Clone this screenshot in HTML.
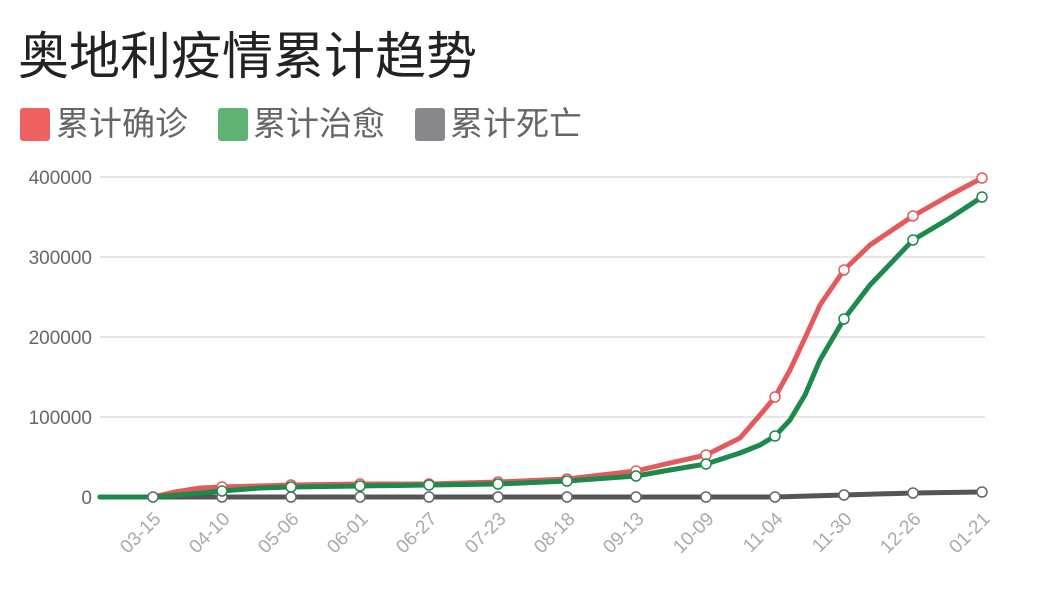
<!DOCTYPE html>
<html><head><meta charset="utf-8"><style>
body{margin:0;background:#fff;width:1039px;height:591px;overflow:hidden;font-family:"Liberation Sans","Noto Sans CJK SC",sans-serif;}
</style></head><body>
<svg width="1039" height="591" xmlns="http://www.w3.org/2000/svg" style="position:absolute;left:0;top:0">
<text x="18" y="74" font-size="51" fill="#222" font-family="Liberation Sans,Noto Sans CJK SC,sans-serif">奥地利疫情累计趋势</text>
<g font-size="33" fill="#666" font-family="Liberation Sans,Noto Sans CJK SC,sans-serif">
<rect x="20" y="108" width="30" height="33" rx="3" fill="#f06262"/><text x="56" y="135">累计确诊</text>
<rect x="218" y="108" width="30" height="33" rx="3" fill="#5fb273"/><text x="253" y="135">累计治愈</text>
<rect x="415" y="108" width="30" height="33" rx="3" fill="#87878c"/><text x="450" y="135">累计死亡</text>
</g>
<g stroke="#ddd" stroke-width="1.5">
<line x1="100" y1="177" x2="985" y2="177"/><line x1="100" y1="257" x2="985" y2="257"/>
<line x1="100" y1="337" x2="985" y2="337"/><line x1="100" y1="417" x2="985" y2="417"/>
</g>
<g font-size="19" fill="#666" text-anchor="end" font-family="Liberation Sans,sans-serif">
<text x="92" y="184">400000</text><text x="92" y="264">300000</text><text x="92" y="344">200000</text><text x="92" y="424">100000</text><text x="92" y="504">0</text>
</g>
<g font-size="19" fill="#aaa" text-anchor="end" font-family="Liberation Sans,sans-serif">
<text transform="translate(162,520) rotate(-45)">03-15</text>
<text transform="translate(231,520) rotate(-45)">04-10</text>
<text transform="translate(300,520) rotate(-45)">05-06</text>
<text transform="translate(369,520) rotate(-45)">06-01</text>
<text transform="translate(438,520) rotate(-45)">06-27</text>
<text transform="translate(507,520) rotate(-45)">07-23</text>
<text transform="translate(576,520) rotate(-45)">08-18</text>
<text transform="translate(645,520) rotate(-45)">09-13</text>
<text transform="translate(715,520) rotate(-45)">10-09</text>
<text transform="translate(784,520) rotate(-45)">11-04</text>
<text transform="translate(853,520) rotate(-45)">11-30</text>
<text transform="translate(922,520) rotate(-45)">12-26</text>
<text transform="translate(991,520) rotate(-45)">01-21</text>
</g>
<g fill="none" stroke-width="5" stroke-linejoin="round" stroke-linecap="round">
<polyline stroke="#555" points="100,497 775,497 844,495 913,493 982,492"/>
<polyline stroke="#e45a5c" points="100,497 153,497 175,492 200,488 222,487 291,485 360,484 429,484 498,482 567,479 636,471 670,463 706,455 740,438 760,415 775,397 790,370 805,338 820,305 844,270 870,245 913,216 950,195 982,178"/>
<polyline stroke="#1d8a4c" points="100,497 153,497 190,494 222,491 260,488 291,487 360,486 429,485 498,484 567,481 636,476 670,470 706,464 740,453 760,445 775,436 790,420 805,395 820,360 844,319 870,285 913,240 950,218 982,197"/>
</g>
<g fill="#fff" stroke="#666" stroke-width="1.5">
<circle cx="153" cy="497" r="5"/><circle cx="222" cy="497" r="5"/><circle cx="291" cy="497" r="5"/><circle cx="360" cy="497" r="5"/><circle cx="429" cy="497" r="5"/><circle cx="498" cy="497" r="5"/><circle cx="567" cy="497" r="5"/><circle cx="636" cy="497" r="5"/><circle cx="706" cy="497" r="5"/><circle cx="775" cy="497" r="5"/><circle cx="844" cy="495" r="5"/><circle cx="913" cy="493" r="5"/><circle cx="982" cy="492" r="5"/>
</g>
<g fill="#fff" stroke="#e45a5c" stroke-width="1.5">
<circle cx="222" cy="487" r="5"/><circle cx="291" cy="485" r="5"/><circle cx="360" cy="484" r="5"/><circle cx="429" cy="484" r="5"/><circle cx="498" cy="482" r="5"/><circle cx="567" cy="479" r="5"/><circle cx="636" cy="471" r="5"/><circle cx="706" cy="455" r="5"/><circle cx="775" cy="397" r="5"/><circle cx="844" cy="270" r="5"/><circle cx="913" cy="216" r="5"/><circle cx="982" cy="178" r="5"/>
</g>
<g fill="#fff" stroke="#1d8a4c" stroke-width="1.5">
<circle cx="222" cy="491" r="5"/><circle cx="291" cy="487" r="5"/><circle cx="360" cy="486" r="5"/><circle cx="429" cy="485" r="5"/><circle cx="498" cy="484" r="5"/><circle cx="567" cy="481" r="5"/><circle cx="636" cy="476" r="5"/><circle cx="706" cy="464" r="5"/><circle cx="775" cy="436" r="5"/><circle cx="844" cy="319" r="5"/><circle cx="913" cy="240" r="5"/><circle cx="982" cy="197" r="5"/>
</g>
</svg>
</body></html>
